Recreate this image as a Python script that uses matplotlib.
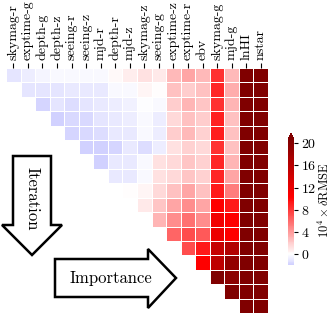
import numpy as np
import matplotlib
matplotlib.use("Agg")
import matplotlib.pyplot as plt
from matplotlib.colors import ListedColormap, Normalize
from matplotlib.patches import Polygon

plt.rcParams['font.family'] = 'serif'
plt.rcParams['font.serif'] = ['cmr10', 'DejaVu Serif']
plt.rcParams['mathtext.fontset'] = 'cm'
plt.rcParams['axes.unicode_minus'] = False
plt.rcParams['axes.formatter.use_mathtext'] = True

features = ['skymag-r', 'exptime-g', 'depth-g', 'depth-z', 'seeing-r', 'seeing-z',
            'mjd-r', 'depth-r', 'mjd-z', 'skymag-z', 'seeing-g', 'exptime-z',
            'exptime-r', 'ebv', 'skymag-g', 'mjd-g', 'lnHI', 'nstar']

# 10^4 x dRMSE per iteration (row r starts at feature r)
it01 = [-1.0, -0.6, -0.4, -0.3, -0.2, -0.2, -0.2, 0.3, 0.7, 1.2, 1.0, 2.9, 3.6, 2.9, 8.3, 2.9, 21.5, 21.5]
it02 = [-1.0, -1.0, -1.0, -0.9, -0.8, -0.8, -0.2, -0.2, 0.4, 0.2, 2.6, 2.1, 2.6, 8.8, 3.3, 21.5, 21.5]
it03 = [-1.6, -1.1, -1.3, -1.1, -0.9, -0.6, -0.5, -0.1, -0.2, 2.1, 3.1, 2.3, 8.3, 3.1, 21.5, 21.5]
it04 = [-1.8, -1.4, -1.4, -1.1, -0.8, -0.7, -0.3, -0.7, 1.6, 2.6, 2.1, 9.0, 2.6, 21.5, 21.5]
it05 = [-1.6, -1.4, -1.3, -0.9, -0.8, -0.3, -0.6, 2.1, 2.9, 1.9, 9.1, 2.6, 21.5, 21.5]
it06 = [-2.0, -1.9, -1.6, -0.8, -1.3, -0.7, 1.2, 1.9, 1.6, 8.3, 2.6, 21.5, 21.5]
it07 = [-1.9, -0.9, -0.9, -0.3, 1.2, 1.6, 2.3, 1.9, 8.8, 3.1, 21.5, 21.5]
it08 = [-0.8, -0.8, -0.2, 1.2, 1.6, 2.3, 1.9, 8.8, 3.6, 21.5, 21.5]
it09 = [0.2, 0.4, 1.6, 2.6, 3.6, 2.6, 9.3, 5.2, 21.5, 21.5]
it10 = [1.0, 2.3, 3.6, 4.7, 3.6, 10.4, 9.3, 21.5, 21.5]
it11 = [3.1, 4.7, 5.7, 4.7, 11.4, 10.4, 21.5, 21.5]
it12 = [6.2, 7.2, 6.7, 11.8, 10.4, 21.5, 21.5]
it13 = [7.2, 9.3, 14.9, 16.6, 21.5, 21.5]
it14 = [10.4, 15.5, 19.0, 21.5, 21.5]
it15 = [21.2, 19.7, 21.5, 21.5]
it16 = [20.7, 21.5, 21.5]
it17 = [21.5, 21.5]
iterations = [it01, it02, it03, it04, it05, it06, it07, it08, it09, it10,
              it11, it12, it13, it14, it15, it16, it17]

cbar_ticks = [0, 4, 8, 12, 16, 20]

nc = len(features)
nr = len(iterations)
M = np.full((nr, nc), np.nan)
for r, row in enumerate(iterations):
    M[r, nc - len(row):] = row
M = np.ma.masked_invalid(M)

# colormap: seismic, symmetric around zero, displayed from vmin to vmax
vmin, vmax, half = -1.9, 20.7, 20.7
seis = plt.get_cmap('seismic')
vals = np.linspace(vmin, vmax, 256)
cmap = ListedColormap(seis((vals + half) / (2 * half)))
cmap.set_over(seis(1.0))
cmap.set_bad((1, 1, 1, 0))
norm = Normalize(vmin=vmin, vmax=vmax)

W, H = 332, 317
fig = plt.figure(figsize=(W / 100, H / 100), dpi=100)

def fx(x):
    return x / W

def fy(y):
    return 1 - y / H

ax = fig.add_axes([fx(6), fy(313), fx(268) - fx(6), fy(68) - fy(313)])
mesh = ax.pcolormesh(np.arange(nc + 1), np.arange(nr + 1), M, cmap=cmap, norm=norm,
                     edgecolors='white', linewidth=0.7)
ax.set_xlim(0, nc)
ax.set_ylim(nr, 0)
ax.xaxis.tick_top()
ax.set_xticks(np.arange(nc) + 0.5)
ax.set_xticklabels(features, rotation=90, fontsize=10)
ax.tick_params(axis='x', length=3.5, width=0.8, pad=2)
ax.set_yticks([])
for s in ax.spines.values():
    s.set_visible(False)

cax = fig.add_axes([fx(288), fy(265), fx(294) - fx(288), fy(133) - fy(265)])
cb = fig.colorbar(mesh, cax=cax, extend='max', ticks=cbar_ticks)
cb.outline.set_visible(False)
cb.ax.tick_params(labelsize=10, length=3, width=0.8, pad=2)
fig.text(fx(324.5), fy(200), r'$10^4 \times \delta$RMSE', rotation=90,
         ha='center', va='center', fontsize=9)

# arrows
down = [(13, 156), (51, 156), (51, 225), (62, 225), (32, 255), (2, 225), (13, 225)]
right = [(55, 259), (148, 259), (148, 249), (176, 278), (148, 308), (148, 297), (55, 297)]
for pts in (down, right):
    fig.patches.append(Polygon([(fx(x), fy(y)) for x, y in pts], closed=True,
                               transform=fig.transFigure, facecolor='white',
                               edgecolor='black', linewidth=1.8, joinstyle='miter'))
fig.text(fx(32), fy(199), 'Iteration', rotation=-90, ha='center', va='center', fontsize=12)
fig.text(fx(111), fy(278), 'Importance', ha='center', va='center', fontsize=12)

fig.savefig('out.png', dpi=100)
